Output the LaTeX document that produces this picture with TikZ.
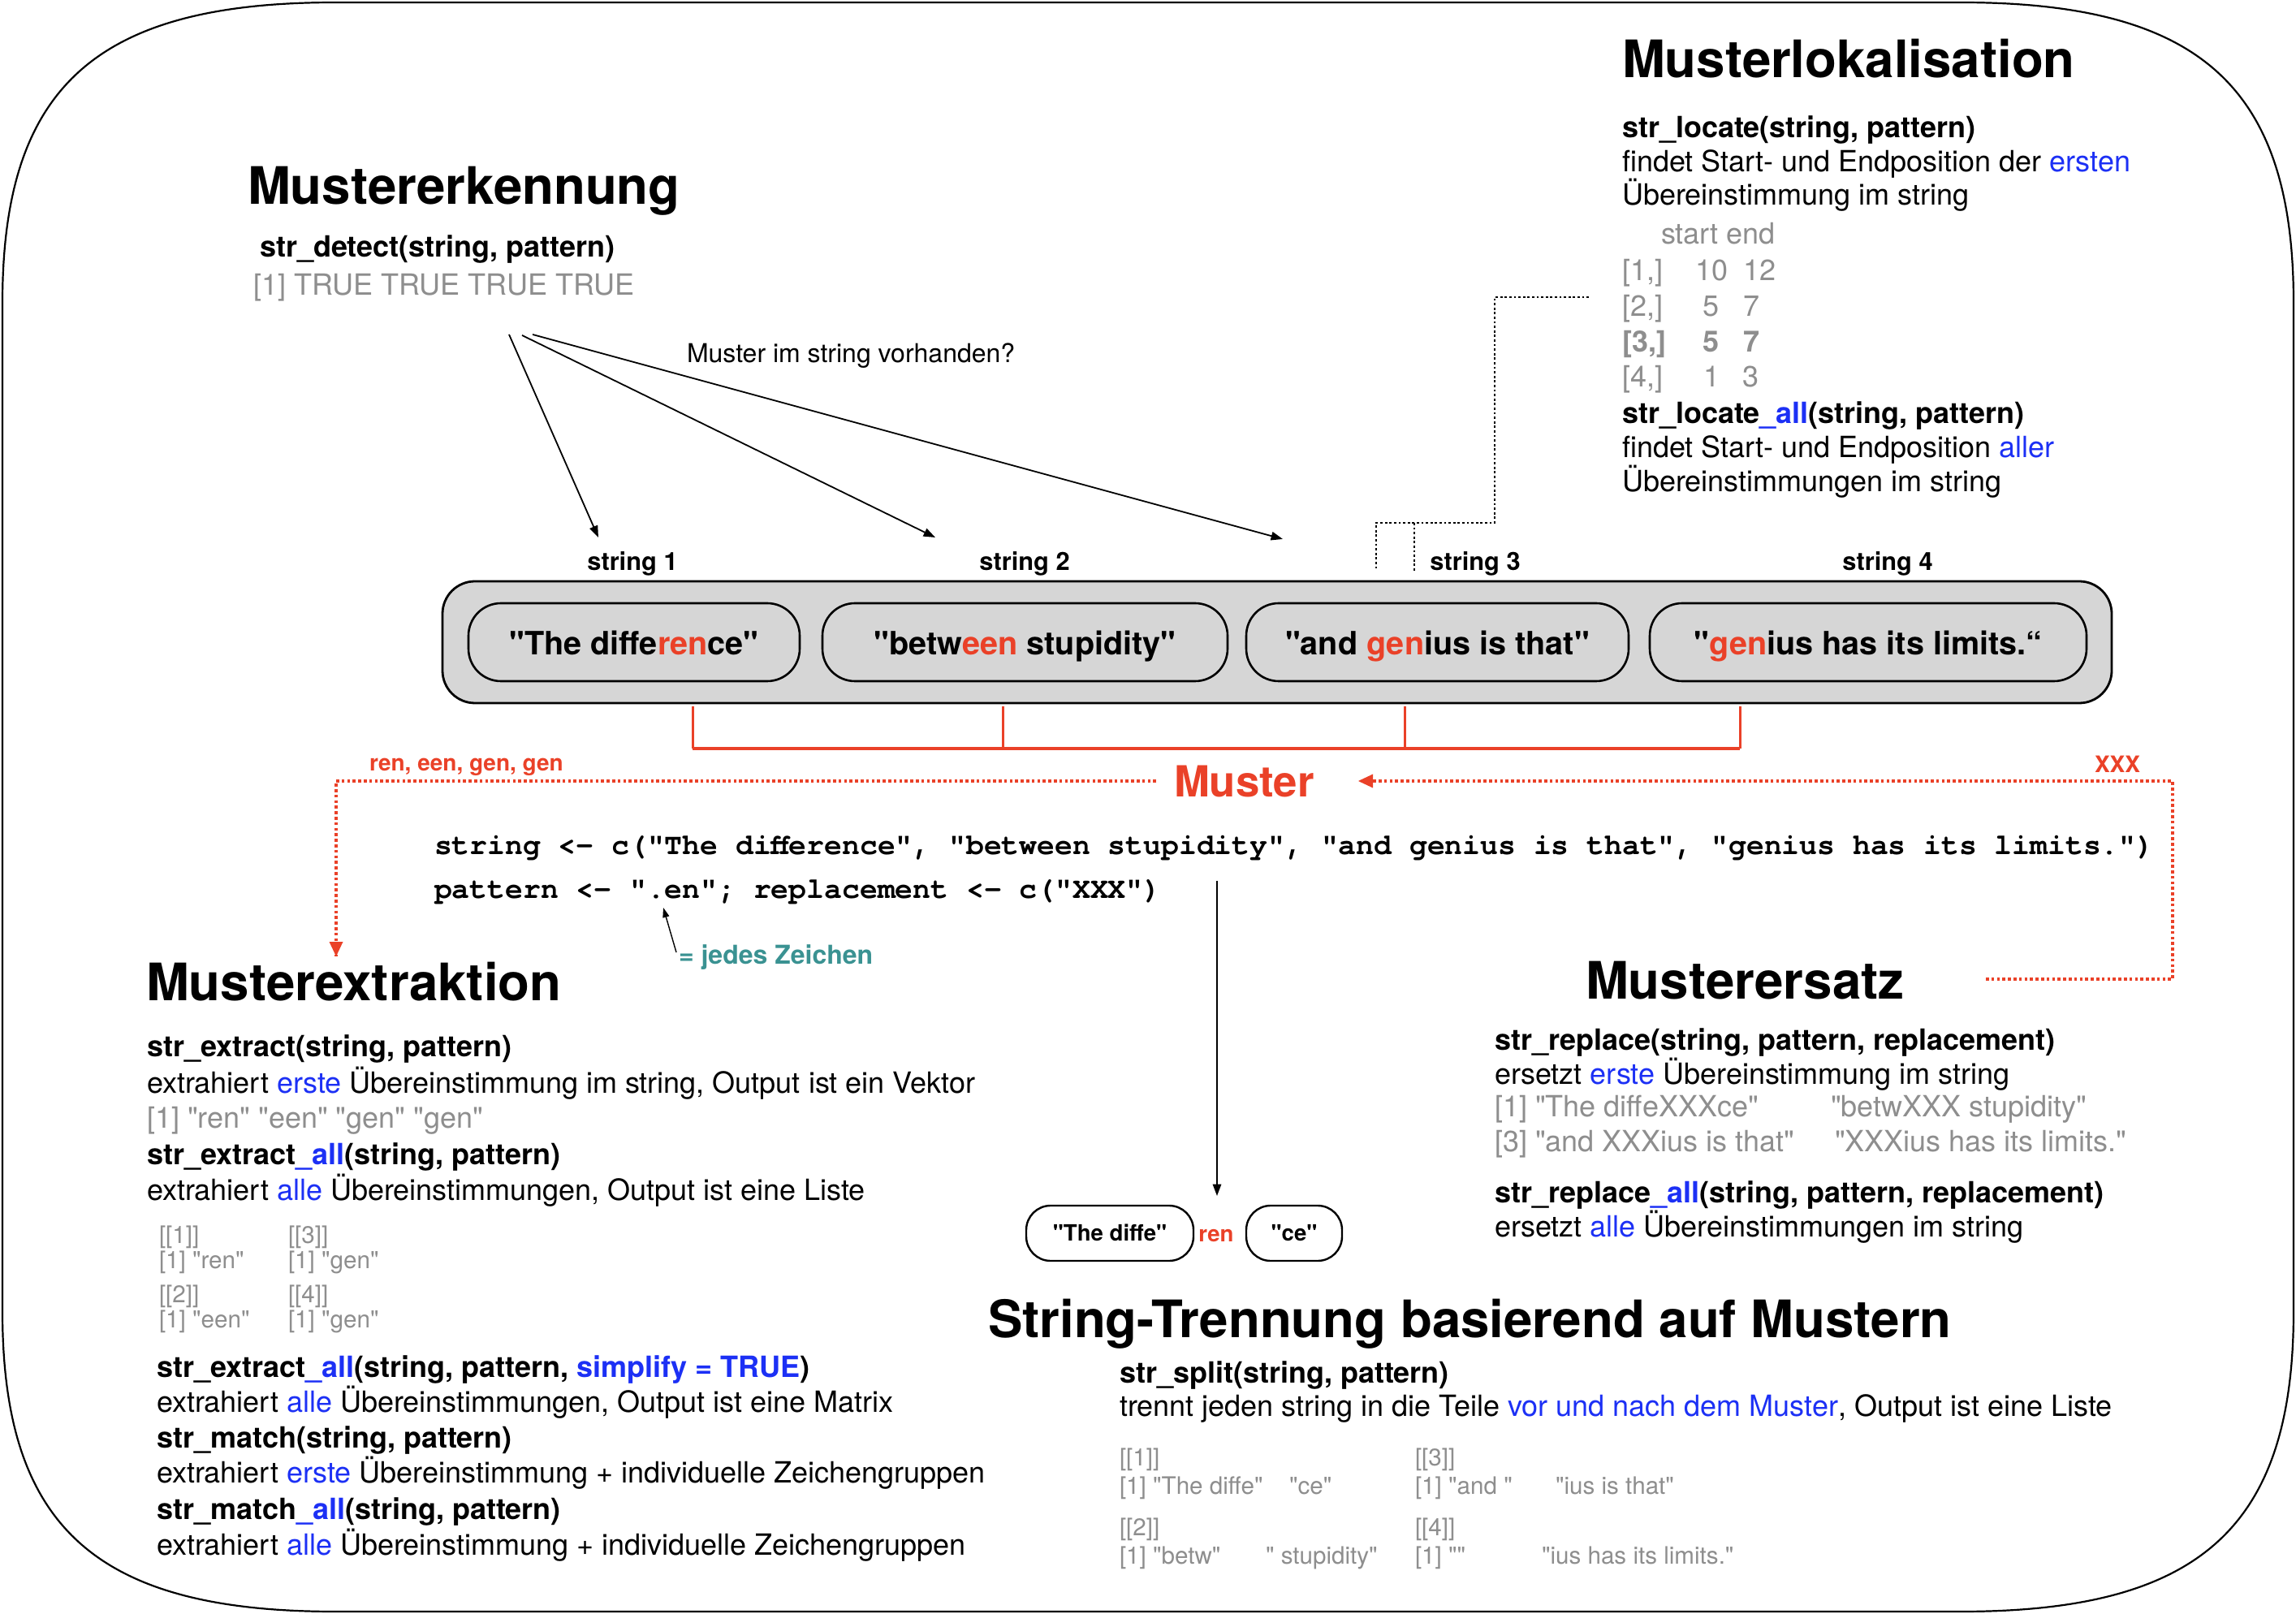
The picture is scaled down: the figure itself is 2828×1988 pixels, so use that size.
\documentclass[tikz,border=0pt]{standalone}
\usepackage{fontspec}
\setmainfont{TeX Gyre Heros}[Ligatures=TeXOff]
\newfontfamily\codefont{TeX Gyre Cursor}[Ligatures=TeXOff]
\usetikzlibrary{arrows.meta}
\definecolor{mred}{RGB}{234,65,40}
\definecolor{mblue}{RGB}{28,48,245}
\definecolor{mgray}{RGB}{142,142,142}
\definecolor{mteal}{RGB}{58,146,146}
\definecolor{boxgray}{RGB}{214,214,214}
\newcommand{\blu}[1]{\textcolor{mblue}{#1}}
\newcommand{\redt}[1]{\textcolor{mred}{#1}}
\tikzset{
  txt/.style={anchor=base west, inner sep=0pt, outer sep=0pt},
  titletxt/.style={txt, font=\fontsize{15.9}{19}\selectfont\bfseries},
  body/.style={txt, font=\fontsize{9}{11}\selectfont},
  bodyb/.style={txt, font=\fontsize{9}{11}\selectfont\bfseries},
  grayt/.style={body, text=mgray},
  grayb/.style={bodyb, text=mgray},
  smallg/.style={txt, font=\fontsize{7.4}{9}\selectfont, text=mgray},
  codetxt/.style={txt, font=\codefont\bfseries\fontsize{9.1}{11}\selectfont},
  strlabel/.style={anchor=base, inner sep=0pt, font=\fontsize{7.7}{9}\selectfont\bfseries},
  container/.style={draw=black, line width=0.7pt, fill=boxgray, rounded corners=10pt, inner sep=0pt},
  strbox/.style={draw=black, line width=0.65pt, fill=boxgray, rounded corners=10pt, inner sep=0pt,
     minimum height=24pt, text height=9pt, text depth=1pt, font=\fontsize{9.9}{12}\selectfont\bfseries},
  smallbox/.style={draw=black, line width=0.6pt, fill=white, rounded corners=7.5pt, inner sep=0pt,
     minimum height=17pt, text height=5.5pt, text depth=1pt, font=\fontsize{6.9}{8}\selectfont\bfseries},
  blackarrow/.style={draw=black, line width=0.45pt, -{Triangle[length=3.6pt,width=2.6pt]}},
  reddots/.style={draw=mred, line width=0.8pt, dash pattern=on 0.9pt off 0.8pt},
  blackdots/.style={draw=black, line width=0.7pt, dash pattern=on 0.7pt off 0.7pt},
}
\begin{document}
\begin{tikzpicture}[x=0.25pt,y=-0.25pt]
\fill[white] (0,0) rectangle (2828,1988);
\useasboundingbox (0,0) rectangle (2828,1988);

% outer frame
\draw[line width=0.55pt] (3,373) .. controls (3,107) and (118,3) .. (413,3)
  -- (2415,3) .. controls (2710,3) and (2825,107) .. (2825,373)
  -- (2825,1615) .. controls (2825,1881) and (2710,1985) .. (2415,1985)
  -- (413,1985) .. controls (118,1985) and (3,1881) .. (3,1615) -- cycle;

% titles
\node[titletxt] (tErk) at (305,252) {Mustererkennung};
\node[titletxt] (tLok) at (1998,96) {Musterlokalisation};
\node[titletxt] (tExt) at (180,1232) {Musterextraktion};
\node[titletxt] (tErs) at (1953,1230) {Musterersatz};
\node[titletxt] (tTre) at (1217,1647) {String-Trennung basierend auf Mustern};

% Mustererkennung
\node[bodyb] (det) at (320,317) {str\_detect(string, pattern)};
\node[grayt] (detr) at (312,364) {[1] TRUE TRUE TRUE TRUE};
\node[txt, font=\fontsize{8}{10}\selectfont] (vorh) at (846,447) {Muster im string vorhanden?};
\coordinate (a1s) at (627,412); \coordinate (a1e) at (737,662);
\coordinate (a2s) at (643,413); \coordinate (a2e) at (1152,662);
\coordinate (a3s) at (656,412); \coordinate (a3e) at (1580,664);
\draw[blackarrow] (a1s) -- (a1e);
\draw[blackarrow] (a2s) -- (a2e);
\draw[blackarrow] (a3s) -- (a3e);

% Musterlokalisation
\node[bodyb] (loc1) at (1998,170) {str\_locate(string, pattern)};
\node[body] (loc2) at (1998,212) {findet Start- und Endposition der \blu{ersten}};
\node[body] (loc3) at (1998,253) {Übereinstimmung im string};
\node[grayt] (m0) at (2046,301) {start end};
\node[grayt] (m1a) at (1998,346) {[1,]};
\node[grayt] (m1b) at (2088,346) {10};
\node[grayt] (m1c) at (2147,346) {12};
\node[grayt] (m2a) at (1998,390) {[2,]};
\node[grayt] (m2b) at (2097,390) {5};
\node[grayt] (m2c) at (2147,390) {7};
\node[grayb] (m3a) at (1998,434) {[3,]};
\node[grayb] (m3b) at (2097,434) {5};
\node[grayb] (m3c) at (2147,434) {7};
\node[grayt] (m4a) at (1998,477) {[4,]};
\node[grayt] (m4b) at (2098,477) {1};
\node[grayt] (m4c) at (2146,477) {3};
\node[bodyb] (loc4) at (1998,522) {str\_locate\blu{\_all}(string, pattern)};
\node[body] (loc5) at (1998,564) {findet Start- und Endposition \blu{aller}};
\node[body] (loc6) at (1998,606) {Übereinstimmungen im string};

% dotted connector Lokalisation -> string 3
\coordinate (d1) at (1957,366);
\coordinate (d2) at (1841,366);
\coordinate (d3) at (1841,644);
\coordinate (d4) at (1695,644);
\coordinate (d5) at (1695,703);
\coordinate (d6) at (1742,644);
\coordinate (d7) at (1742,703);
\draw[blackdots] (d1) -- (d2) -- (d3) -- (d4) -- (d5);
\draw[blackdots] (d6) -- (d7);

% string labels
\node[strlabel] (sl1) at (779,703) {string 1};
\node[strlabel] (sl2) at (1262,703) {string 2};
\node[strlabel] (sl3) at (1817,703) {string 3};
\node[strlabel] (sl4) at (2325,703) {string 4};

% container and string boxes
\node[container, minimum width=514pt, minimum height=37.5pt] (cont) at (1573,791) {};
\node[strbox, minimum width=102pt] (s1) at (781,791) {"The diffe\redt{ren}ce"};
\node[strbox, minimum width=124.75pt] (s2) at (1262.5,791) {"betw\redt{een} stupidity"};
\node[strbox, minimum width=117.75pt] (s3) at (1770.5,791) {"and \redt{gen}ius is that"};
\node[strbox, minimum width=134.5pt] (s4) at (2301,791) {"\redt{gen}ius has its limits.“};

% red bracket
\coordinate (b1t) at (853,870); \coordinate (b1b) at (853,922);
\coordinate (b2t) at (1235,870); \coordinate (b2b) at (1235,922);
\coordinate (b3t) at (1730,870); \coordinate (b3b) at (1730,922);
\coordinate (b4t) at (2143,870); \coordinate (b4b) at (2143,922);
\draw[mred, line width=0.75pt] (b1t) -- (b1b) (b2t) -- (b2b) (b3t) -- (b3b) (b4t) -- (b4b);
\draw[mred, line width=1.2pt] (b1b) -- (b4b);

% Muster and red dotted lines
\node[txt, font=\fontsize{13.2}{15}\selectfont\bfseries, text=mred] (muster) at (1446,982) {Muster};
\node[txt, font=\fontsize{7}{9}\selectfont\bfseries, text=mred] (renlab) at (455,950) {ren, een, gen, gen};
\node[txt, font=\fontsize{7}{9}\selectfont\bfseries, text=mred] (xxxlab) at (2580,952) {XXX};
\coordinate (l1) at (1424,962);
\coordinate (l2) at (414,962);
\coordinate (l3) at (414,1178);
\draw[reddots] (l1) -- (l2) -- (l3);
\fill[mred] (l3) -- ++(-8.5,-18) -- ++(17,0) -- cycle;
\coordinate (r1) at (2446,1206);
\coordinate (r2) at (2676,1206);
\coordinate (r3) at (2676,962);
\coordinate (r4) at (1690,962);
\coordinate (r5) at (1673,962);
\draw[reddots] (r1) -- (r2) -- (r3) -- (r4);
\fill[mred] (r5) -- ++(18,-8.5) -- ++(0,17) -- cycle;

% code
\node[codetxt] (code1) at (535,1052) {string <- c("The difference", "between stupidity", "and genius is that", "genius has its limits.")};
\node[codetxt] (code2) at (535,1106) {pattern <- ".en"; replacement <- c("XXX")};
\node[txt, font=\fontsize{8}{10}\selectfont\bfseries, text=mteal] (jedes) at (836,1187) {= jedes Zeichen};
\coordinate (js) at (833,1173);
\coordinate (je) at (817,1118);
\draw[line width=0.35pt, -{Triangle[length=3pt,width=2pt]}] (js) -- (je);

% split boxes
\node[smallbox, minimum width=51.5pt] (sb1) at (1367,1519) {"The diffe"};
\node[smallbox, minimum width=29.5pt] (sb2) at (1594,1519) {"ce"};
\node[anchor=base, inner sep=0pt, font=\fontsize{6.9}{8}\selectfont\bfseries, text=mred] (renmid) at (1498,1529) {ren};
\coordinate (vs) at (1499,1085);
\coordinate (ve) at (1499,1473);
\draw[blackarrow] (vs) -- (ve);

% Musterextraktion
\node[bodyb] (e1) at (181,1301) {str\_extract(string, pattern)};
\node[body] (e2) at (181,1346) {extrahiert \blu{erste} Übereinstimmung im string, Output ist ein Vektor};
\node[grayt] (e3) at (181,1389) {[1] "ren" "een" "gen" "gen"};
\node[bodyb] (e4) at (181,1434) {str\_extract\blu{\_all}(string, pattern)};
\node[body] (e5) at (181,1478) {extrahiert \blu{alle} Übereinstimmungen, Output ist eine Liste};
\node[smallg] (el1) at (196,1531) {[[1]]};
\node[smallg] (el2) at (196,1562) {[1] "ren"};
\node[smallg] (el3) at (196,1604) {[[2]]};
\node[smallg] (el4) at (196,1635) {[1] "een"};
\node[smallg] (el5) at (355,1531) {[[3]]};
\node[smallg] (el6) at (355,1562) {[1] "gen"};
\node[smallg] (el7) at (355,1604) {[[4]]};
\node[smallg] (el8) at (355,1635) {[1] "gen"};
\node[bodyb] (e6) at (193,1696) {str\_extract\blu{\_all}(string, pattern, \blu{simplify = TRUE})};
\node[body] (e7) at (193,1739) {extrahiert \blu{alle} Übereinstimmungen, Output ist eine Matrix};
\node[bodyb] (e8) at (193,1783) {str\_match(string, pattern)};
\node[body] (e9) at (193,1826) {extrahiert \blu{erste} Übereinstimmung + individuelle Zeichengruppen};
\node[bodyb] (e10) at (193,1871) {str\_match\blu{\_all}(string, pattern)};
\node[body] (e11) at (193,1915) {extrahiert \blu{alle} Übereinstimmung + individuelle Zeichengruppen};

% Musterersatz
\node[bodyb] (r01) at (1841,1293) {str\_replace(string, pattern, replacement)};
\node[body] (r02) at (1841,1335) {ersetzt \blu{erste} Übereinstimmung im string};
\node[grayt] (r03) at (1841,1375) {[1] "The diffeXXXce"};
\node[grayt] (r04) at (2255,1375) {"betwXXX stupidity"};
\node[grayt] (r05) at (1841,1418) {[3] "and XXXius is that"};
\node[grayt] (r06) at (2260,1418) {"XXXius has its limits."};
\node[bodyb] (r07) at (1841,1481) {str\_replace\blu{\_all}(string, pattern, replacement)};
\node[body] (r08) at (1841,1523) {ersetzt \blu{alle} Übereinstimmungen im string};

% String-Trennung
\node[bodyb] (p1) at (1379,1703) {str\_split(string, pattern)};
\node[body] (p2) at (1379,1744) {trennt jeden string in die Teile \blu{vor und nach dem Muster}, Output ist eine Liste};
\node[smallg] (pl1) at (1379,1805) {[[1]]};
\node[smallg] (pl2) at (1379,1840) {[1] "The diffe"};
\node[smallg] (pl3) at (1588,1840) {"ce"};
\node[smallg] (pl4) at (1379,1891) {[[2]]};
\node[smallg] (pl5) at (1379,1926) {[1] "betw"};
\node[smallg] (pl6) at (1559,1926) {" stupidity"};
\node[smallg] (pl7) at (1743,1805) {[[3]]};
\node[smallg] (pl8) at (1743,1840) {[1] "and "};
\node[smallg] (pl9) at (1916,1840) {"ius is that"};
\node[smallg] (pl10) at (1743,1891) {[[4]]};
\node[smallg] (pl11) at (1743,1926) {[1] ""};
\node[smallg] (pl12) at (1899,1926) {"ius has its limits."};
\end{tikzpicture}
\end{document}
